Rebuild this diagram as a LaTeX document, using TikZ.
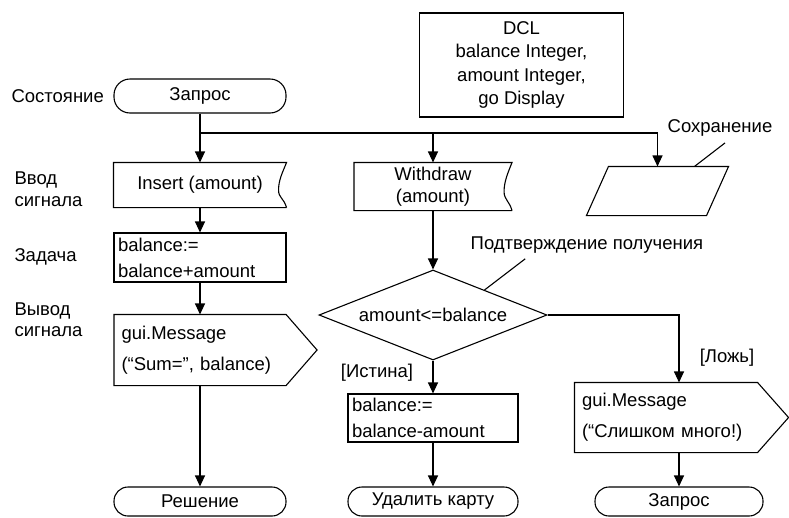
\documentclass[tikz,border=0pt]{standalone}
\usepackage{fontspec}
\setmainfont{Liberation Sans}
\usetikzlibrary{arrows.meta,shapes.geometric,calc,positioning}
\tikzstyle{terminal}=[draw,rectangle,rounded corners=14pt,minimum height=29pt,inner sep=0pt]
\tikzstyle{sigin}=[rectangle,inner sep=0pt,align=center]
\tikzstyle{sigout}=[rectangle,inner xsep=7pt,inner ysep=0pt,align=left,font=\fontsize{18.5}{31}\selectfont]
\tikzstyle{taskbox}=[draw,rectangle,inner xsep=4pt,inner ysep=0pt,align=left,font=\fontsize{18.5}{26}\selectfont]
\tikzstyle{dclbox}=[draw,rectangle,align=center,font=\fontsize{18.5}{23.5}\selectfont]
\tikzstyle{decision}=[draw,diamond,aspect=2.5,minimum width=228pt,minimum height=90pt,inner sep=0pt]
\tikzstyle{rowlabel}=[anchor=west,align=left,inner sep=0pt]
\tikzstyle{note}=[inner sep=0pt]
\tikzstyle{edge}=[draw,-{Triangle[length=11pt,width=10pt]}]
% input signal: box with a notched right side
\newcommand\sigin[1]{\draw (#1.south east) -- (#1.south west) -- (#1.north west) -- (#1.north east)
  .. controls +(-4,10) and +(0,-10) .. ($(#1.east)+(-8,5)$)
  .. controls +(0,8) and +(-3,-10) .. (#1.south east);}
% output signal: box with a pointed right side
\newcommand\sigout[1]{\draw (#1.north west) -- (#1.north east) -- ($(#1.east)+(31,0)$)
  -- (#1.south east) -- (#1.south west) -- cycle;}

\begin{document}
\begin{tikzpicture}[x=1pt,y=-1pt,line width=1.1pt,font=\fontsize{18.5}{22}\selectfont]
    \useasboundingbox (0,0) rectangle (789,517);

    % row labels on the left
    \node[rowlabel] (lstate) at (11,96) {Состояние};
    \node[rowlabel] (lin) at (14,189) {Ввод\\сигнала};
    \node[rowlabel] (ltask) at (14,257) {Задача};
    \node[rowlabel,font=\fontsize{18.5}{21}\selectfont] (lout) at (14,320) {Вывод\\сигнала};

    % left column
    \node[terminal,minimum width=172pt,minimum height=34pt,rounded corners=16pt] (zapros1) at (200,96) {Запрос};
    \node[sigin,minimum width=172pt,minimum height=44pt] (insert) at (200,185) {Insert (amount)};
    \sigin{insert}
    \node[taskbox,text width=164pt,minimum height=49pt] (add) at (200,257.5) {balance:=\\balance+amount};
    \node[sigout,text width=157pt,minimum height=70pt] (sum) at (200,350) {gui.Message\\(“Sum=”, balance)};
    \sigout{sum}
    \node[terminal,minimum width=172pt] (solved) at (200,501.5) {Решение};

    % declarations and save
    \node[dclbox,minimum width=204pt,minimum height=104pt] (dcl) at (521.5,65) {DCL\\balance Integer,\\amount Integer,\\go Display};
    \node[minimum width=119pt,minimum height=48pt,inner sep=0pt] (save) at (657.5,191) {};
    \draw ([xshift=-11pt]save.south west) -- ([xshift=11pt]save.north west)
        -- ([xshift=11pt]save.north east) -- ([xshift=-11pt]save.south east) -- cycle;
    \node[note] (savelbl) at (720,128) {Сохранение};
    \draw ($(savelbl.south)+(5,6)$) -- ($(save.north)+(37,0)$);

    % middle column
    \node[sigin,minimum width=157pt,minimum height=47pt] (withdraw) at (433,186.5) {Withdraw\\(amount)};
    \sigin{withdraw}
    \node[decision] (check) at (433,315) {amount<=balance};
    \node[note] (conf) at (587,245) {Подтверждение получения};
    \draw ($(conf.south west)+(55,5)$) -- ($(check.north)!0.45!(check.east)$);
    \node[note] (yes) at (377,373) {[Истина]};
    \node[taskbox,text width=162pt,minimum height=48pt] (sub) at (433,418) {balance:=\\balance-amount};
    \node[terminal,minimum width=170pt] (eject) at (433,501.5) {Удалить карту};

    % right column
    \node[note] (no) at (727,358) {[Ложь]};
    \node[sigout,text width=168pt,minimum height=69pt] (toomuch) at (666,417.5) {gui.Message\\(“Слишком много!)};
    \sigout{toomuch}
    \node[terminal,minimum width=168pt] (zapros2) at (679,501.5) {Запрос};

    % connectors
    \coordinate (fork) at (200,133);
    \draw[edge] (zapros1) -- (insert);
    \draw[edge] (fork) -| (save.north);
    \draw[edge] (fork -| withdraw.north) -- (withdraw);
    \draw[edge] (insert) -- (add);
    \draw[edge] (add) -- (sum);
    \draw[edge] (sum) -- (solved);
    \draw[edge] (withdraw) -- (check);
    \draw[edge] (check) -- (sub);
    \draw[edge] (sub) -- (eject);
    \draw[edge] (check.east) -| (toomuch.north -| zapros2.north);
    \draw[edge] (toomuch.south -| zapros2.north) -- (zapros2);
\end{tikzpicture}
\end{document}
